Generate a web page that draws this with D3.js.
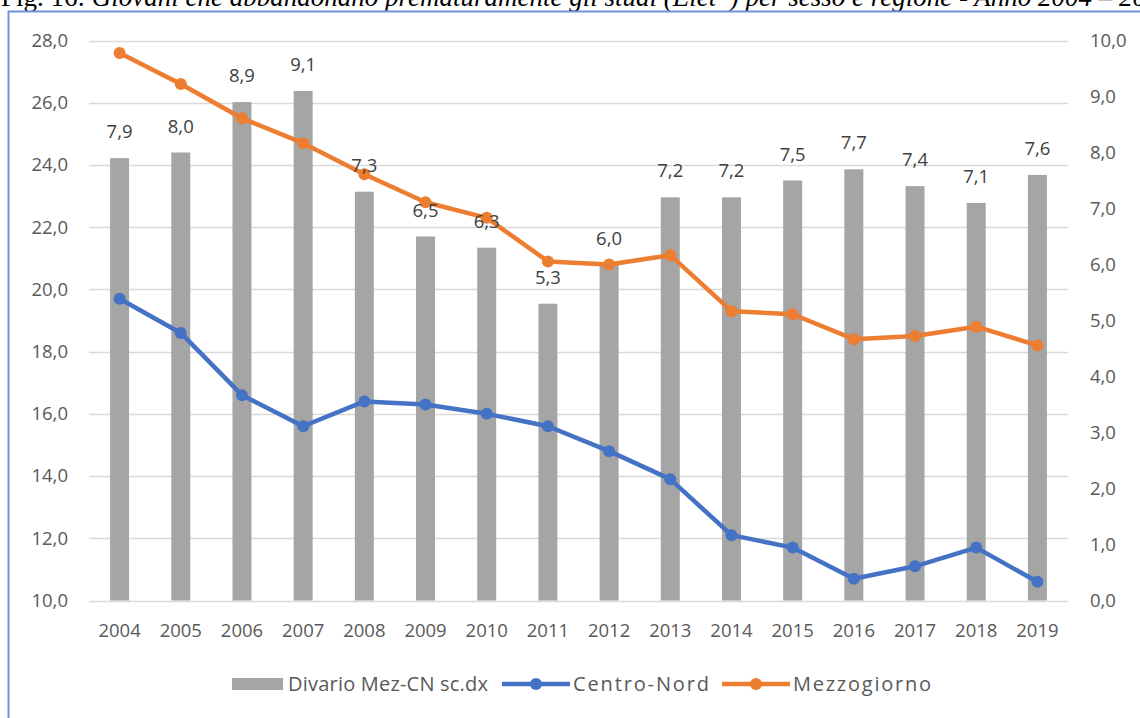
<!DOCTYPE html>
<html><head><meta charset="utf-8">
<script src="https://cdn.jsdelivr.net/npm/d3@7/dist/d3.min.js"></script>
<style>
html,body{margin:0;padding:0;background:#fff;overflow:hidden;}
svg{display:block;}
</style></head>
<body>
<svg id="chart" width="1140" height="718"></svg>
<script>
const years = ["2004","2005","2006","2007","2008","2009","2010","2011","2012","2013","2014","2015","2016","2017","2018","2019"];
const divario = [7.9,8.0,8.9,9.1,7.3,6.5,6.3,5.3,6.0,7.2,7.2,7.5,7.7,7.4,7.1,7.6];
const centroNord = [19.7,18.6,16.6,15.6,16.4,16.3,16.0,15.6,14.8,13.9,12.1,11.7,10.7,11.1,11.7,10.6];
const mezzogiorno = [27.6,26.6,25.5,24.7,23.7,22.8,22.3,20.9,20.8,21.1,19.3,19.2,18.4,18.5,18.8,18.2];
const leftTicks = [10,12,14,16,18,20,22,24,26,28];
const rightTicks = [0,1,2,3,4,5,6,7,8,9,10];
const seriesNames = ["Divario Mez-CN sc.dx","Centro-Nord","Mezzogiorno"];
const titleLead = "Fig. 16: ";
const titleText = "Giovani che abbandonano prematuramente gli studi (Elet*) per sesso e regione - Anno 2004 – 2019";

const svg = d3.select("#chart");
const font = "Open Sans, sans-serif";
const fs = 18.5;
const colGray = "#a5a5a5", colBlue = "#4472c4", colOrange = "#ed7d31";
const fmt = d => d3.format(".1f")(d).replace(".", ",");

// title (clipped at top, as in the source image)
const t = svg.append("text").attr("x", 1).attr("y", 6)
  .attr("font-family", "Liberation Serif, Times New Roman, serif").attr("font-size", 27).attr("fill", "#000");
t.append("tspan").text(titleLead);
t.append("tspan").attr("font-style", "italic").text(titleText);

// frame border
svg.append("rect").attr("x", 8.5).attr("y", 11.5).attr("width", 1200).attr("height", 800)
  .attr("fill", "#fff").attr("stroke", "#7392d6").attr("stroke-width", 2);

const x = d3.scaleBand().domain(years).range([89, 1068]).paddingInner(0.69).paddingOuter(0.345);
const xc = d => x(d) + x.bandwidth() / 2;
const yL = d3.scaleLinear().domain([10, 28]).range([600.5, 40.5]);
const yR = d3.scaleLinear().domain([0, 10]).range([600.5, 40.5]);

// gridlines
svg.append("g").selectAll("line").data(leftTicks).join("line")
  .attr("x1", 89).attr("x2", 1068)
  .attr("y1", d => Math.round(yL(d)) + 0.5).attr("y2", d => Math.round(yL(d)) + 0.5)
  .attr("stroke", "#d9d9d9").attr("stroke-width", 1.3);

// left axis
const axL = svg.append("g").attr("transform", "translate(89,0)")
  .call(d3.axisLeft(yL).tickValues(leftTicks).tickSize(0).tickPadding(21).tickFormat(fmt));
axL.select(".domain").remove();
axL.selectAll("text").attr("font-family", font).attr("font-size", fs).attr("fill", "#595959");

// right axis
const axR = svg.append("g").attr("transform", "translate(1068,0)")
  .call(d3.axisRight(yR).tickValues(rightTicks).tickSize(0).tickPadding(22).tickFormat(fmt));
axR.select(".domain").remove();
axR.selectAll("text").attr("font-family", font).attr("font-size", fs).attr("fill", "#595959");

// bottom axis
const axB = svg.append("g").attr("transform", "translate(0,600.5)")
  .call(d3.axisBottom(x).tickSize(0).tickPadding(23));
axB.select(".domain").remove();
axB.selectAll("text").attr("font-family", font).attr("font-size", fs).attr("fill", "#595959");

// bars
svg.append("g").selectAll("rect").data(divario).join("rect")
  .attr("x", (d, i) => x(years[i])).attr("width", x.bandwidth())
  .attr("y", d => yR(d)).attr("height", d => yR(0) - yR(d))
  .attr("fill", colGray);

// lines
function drawLine(vals, color) {
  const line = d3.line().x((d, i) => xc(years[i])).y(d => yL(d));
  svg.append("path").datum(vals).attr("d", line).attr("fill", "none")
    .attr("stroke", color).attr("stroke-width", 4.5).attr("stroke-linejoin", "round");
  svg.append("g").selectAll("circle").data(vals).join("circle")
    .attr("cx", (d, i) => xc(years[i])).attr("cy", d => yL(d)).attr("r", 6)
    .attr("fill", color);
}
drawLine(centroNord, colBlue);
drawLine(mezzogiorno, colOrange);

// bar labels
svg.append("g").selectAll("text").data(divario).join("text")
  .attr("x", (d, i) => xc(years[i])).attr("y", d => yR(d) - 20)
  .attr("text-anchor", "middle").attr("font-family", font).attr("font-size", fs)
  .attr("fill", "#404040").text(fmt);

// legend
const lfs = 20;
const lg = svg.append("g").attr("transform", "translate(0,684)");
lg.append("rect").attr("x", 232).attr("y", -6).attr("width", 51).attr("height", 12).attr("fill", colGray);
lg.append("text").attr("x", 288).attr("y", 7).attr("font-family", font).attr("font-size", lfs)
  .attr("textLength", 200).attr("lengthAdjust", "spacing").attr("fill", "#595959").text(seriesNames[0]);
[[502, colBlue, seriesNames[1], 136], [722, colOrange, seriesNames[2], 138]].forEach(([lx, c, name, w]) => {
  lg.append("line").attr("x1", lx).attr("x2", lx + 68).attr("y1", 0).attr("y2", 0).attr("stroke", c).attr("stroke-width", 4.5);
  lg.append("circle").attr("cx", lx + 34).attr("cy", 0).attr("r", 6).attr("fill", c);
  lg.append("text").attr("x", lx + 71).attr("y", 7).attr("font-family", font).attr("font-size", lfs)
    .attr("textLength", w).attr("lengthAdjust", "spacing").attr("fill", "#595959").text(name);
});
</script>
</body></html>
